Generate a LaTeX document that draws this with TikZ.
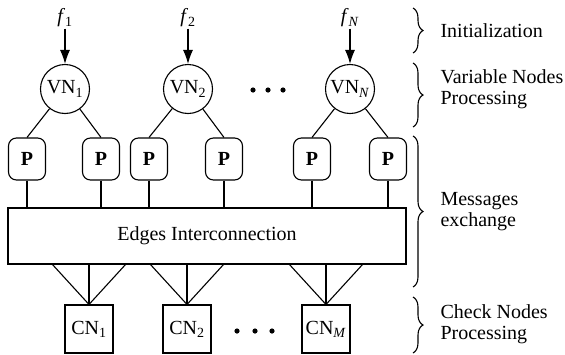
\documentclass[tikz,border=0pt]{standalone}
\usepackage{fontspec}
\setmainfont{Liberation Serif}
\usetikzlibrary{arrows.meta,decorations.pathreplacing}
\begin{document}
\begin{tikzpicture}[x=1pt,y=-1pt,
  font=\fontsize{20}{21}\selectfont,
  every path/.style={line width=1.1pt},
  vnode/.style={draw,circle,minimum size=49pt,inner sep=0pt},
  pbox/.style={draw,rounded corners=8pt,minimum width=37pt,minimum height=42pt,inner sep=0pt,font=\fontsize{20}{21}\selectfont\bfseries},
  cnbox/.style={draw,minimum width=48pt,minimum height=48pt,inner sep=0pt},
  flabel/.style={inner sep=1pt},
  arr/.style={-{Latex[length=14pt,width=10pt]}},
  bracestyle/.style={decorate,decoration={brace,amplitude=10pt}},
  sidetext/.style={anchor=west,align=left,inner sep=0pt}
]
\useasboundingbox (0,0) rectangle (565,354);

% inputs
\node[flabel] (f1) at (65,18) {\textit{f}\textsubscript{1}};
\node[flabel] (f2) at (188,18) {\textit{f}\textsubscript{2}};
\node[flabel] (fN) at (350,18) {\textit{f}\textsubscript{\textit{N}}};

% variable nodes
\node[vnode] (vn1) at (65,89) {VN\textsubscript{1}};
\node[vnode] (vn2) at (188,89) {VN\textsubscript{2}};
\node[vnode] (vnN) at (350,89) {VN\textsubscript{\textit{N}}};

\draw[arr] (f1) -- (vn1);
\draw[arr] (f2) -- (vn2);
\draw[arr] (fN) -- (vnN);

\foreach \x in {253,268,283} \fill (\x,90) circle (2.6pt);

% P boxes
\node[pbox] (p1) at (27,159) {P};
\node[pbox] (p2) at (101,159) {P};
\node[pbox] (p3) at (149,159) {P};
\node[pbox] (p4) at (224,159) {P};
\node[pbox] (p5) at (312,159) {P};
\node[pbox] (p6) at (388,159) {P};

\draw (vn1) -- (p1.north);
\draw (vn1) -- (p2.north);
\draw (vn2) -- (p3.north);
\draw (vn2) -- (p4.north);
\draw (vnN) -- (p5.north);
\draw (vnN) -- (p6.north);

% edges box
\node[draw,minimum width=398pt,minimum height=56pt,inner sep=0pt] (edges) at (207,236) {Edges Interconnection};

\foreach \p in {p1,p2,p3,p4,p5,p6} \draw (\p.south) -- (\p.south |- edges.north);

% check nodes
\node[cnbox] (cn1) at (89,329) {CN\textsubscript{1}};
\node[cnbox] (cn2) at (187,329) {CN\textsubscript{2}};
\node[cnbox] (cnM) at (326,329) {CN\textsubscript{\textit{M}}};

\coordinate (a1) at (52,264); \coordinate (b1) at (89,264); \coordinate (c1) at (126,264);
\coordinate (a2) at (150,264); \coordinate (b2) at (187,264); \coordinate (c2) at (224,264);
\coordinate (a3) at (289,264); \coordinate (b3) at (326,264); \coordinate (c3) at (363,264);
\draw (a1) -- (cn1.north) -- (c1); \draw (b1) -- (cn1.north);
\draw (a2) -- (cn2.north) -- (c2); \draw (b2) -- (cn2.north);
\draw (a3) -- (cnM.north) -- (c3); \draw (b3) -- (cnM.north);

\foreach \x in {237,255,272} \fill (\x,331) circle (2.6pt);

% braces
\draw[bracestyle] (413,8) -- (413,53);
\draw[bracestyle] (413,63) -- (413,127);
\draw[bracestyle] (413,136) -- (413,287);
\draw[bracestyle] (413,297) -- (413,353);

\node[sidetext] (t1) at (440,31) {Initialization};
\node[sidetext] (t2) at (440,89) {Variable Nodes\\Processing};
\node[sidetext] (t3) at (440,212) {Messages\\exchange};
\node[sidetext] (t4) at (440,324) {Check Nodes\\Processing};
\end{tikzpicture}
\end{document}
